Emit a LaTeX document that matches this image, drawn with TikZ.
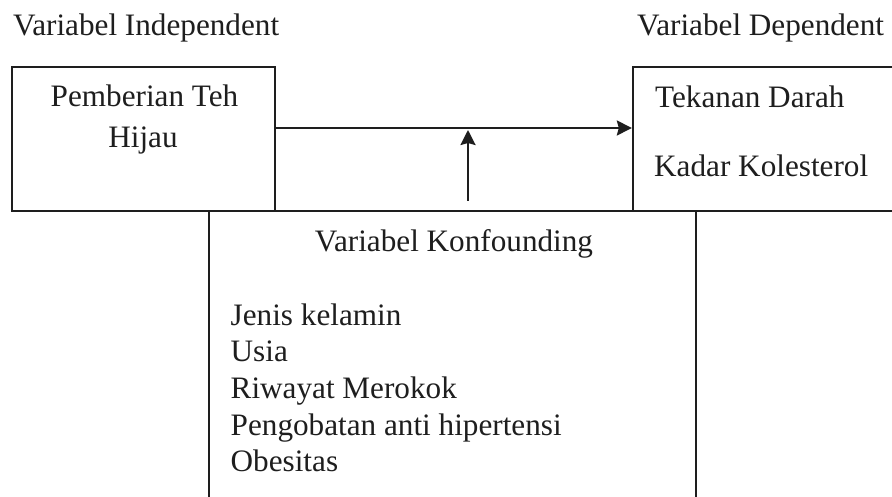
\documentclass[tikz,border=0pt]{standalone}
\usepackage{fontspec}
\setmainfont{Liberation Serif}
\usetikzlibrary{arrows.meta}
\definecolor{ink}{HTML}{1E1E1E}
\begin{document}
\begin{tikzpicture}[x=1pt,y=-1pt,
  box/.style={draw=ink,line width=2.3pt,rectangle,inner sep=0pt},
  lbl/.style={inner sep=0pt,text=ink,font=\fontsize{31.2}{36.7}\selectfont},
  arr/.style={draw=ink,line width=2.3pt,-{Stealth[length=15pt,width=15pt,inset=2pt]}}]
\useasboundingbox (0,0) rectangle (892,497);
\clip (0,0) rectangle (892,497);
\fill[white] (0,0) rectangle (892,497);
% boxes
\node[box,minimum width=263pt,minimum height=144pt] (indep) at (143.5,139) {};
\node[box,minimum width=272pt,minimum height=144pt] (dep) at (769,139) {};
\node[box,minimum width=487pt,minimum height=300pt] (konf) at (452.5,361) {};
% titles
\node[lbl,anchor=base west] (tindep) at (13,36) {Variabel Independent};
\node[lbl,anchor=base west] (tdep) at (637,36) {Variabel Dependent};
% left box text
\node[lbl,anchor=base] (t1) at (144.5,107) {Pemberian Teh};
\node[lbl,anchor=base] (t2) at (143,148) {Hijau};
% right box text
\node[lbl,anchor=base west] (d1) at (655,108) {Tekanan Darah};
\node[lbl,anchor=base west] (d2) at (654,177) {Kadar Kolesterol};
% confounding text
\node[lbl,anchor=base] (k0) at (454,252) {Variabel Konfounding};
\node[lbl,anchor=base west] (k1) at (230.5,325) {Jenis kelamin};
\node[lbl,anchor=base west] (k2) at (230.5,361.7) {Usia};
\node[lbl,anchor=base west] (k3) at (230.5,398.4) {Riwayat Merokok};
\node[lbl,anchor=base west] (k4) at (230.5,435.1) {Pengobatan anti hipertensi};
\node[lbl,anchor=base west] (k5) at (230.5,471.8) {Obesitas};
% arrows
\draw[arr] ([yshift=11pt]indep.east) -- ([yshift=11pt]dep.west);
\coordinate (cfrom) at (468,201);
\coordinate (cto) at (468,130);
\draw[arr] (cfrom) -- (cto);
\end{tikzpicture}
\end{document}
